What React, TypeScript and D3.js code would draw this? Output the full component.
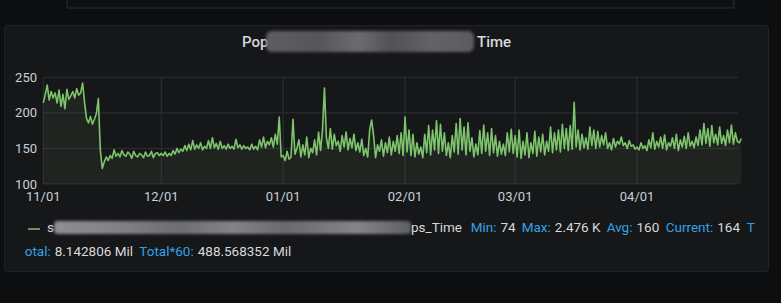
import React from "react";
import * as d3 from "d3";

// two samples per day (00:00, 12:00), starting 2022-11-01
const novValues = [
  214, 226, 239, 218, 230, 221, 228, 214, 232, 209, 226, 206, 233, 219, 224, 230, 221, 234, 225, 228,
  242, 214, 192, 186, 195, 184, 191, 199, 220, 148, 122, 131, 138, 133, 140, 136, 148, 139, 143, 138,
  147, 141, 139, 145, 142, 136, 146, 140, 138, 143, 141, 137, 145, 139, 140, 146, 137, 143, 144, 140,
];
const decValues = [
  143, 140, 145, 139, 143, 140, 147, 142, 150, 144, 149, 146, 154, 147, 156, 148, 161, 149, 155, 150,
  158, 148, 153, 150, 161, 150, 165, 151, 157, 149, 160, 150, 154, 149, 156, 150, 153, 149, 163, 151,
  155, 149, 154, 150, 152, 148, 156, 149, 153, 148, 162, 152, 166, 151, 160, 155, 165, 152, 170, 156,
  194, 138,
];
const janValues = [
  140, 133, 146, 135, 138, 191, 142, 150, 162, 138, 155, 141, 166, 137, 150, 144, 162, 141, 173, 147,
  176, 235, 165, 150, 178, 149, 170, 154, 160, 146, 168, 152, 173, 148, 164, 151, 170, 147, 158, 145,
  163, 140, 150, 138, 176, 190, 168, 137, 155, 146, 162, 139, 158, 144, 166, 141, 160, 146, 168, 143,
  172, 140,
];
const febValues = [
  194, 145, 176, 140, 170, 138, 158, 142, 152, 137, 170, 144, 182, 141, 176, 148, 189, 143, 184, 146,
  172, 140, 158, 137, 168, 145, 185, 142, 192, 148, 180, 141, 186, 146, 165, 138, 156, 141, 175, 143,
  183, 146, 172, 140, 178, 144, 168, 139, 160, 142, 156, 140, 172, 145, 177, 143,
];
const marValues = [
  168, 138, 176, 136, 160, 141, 172, 137, 158, 143, 174, 139, 166, 145, 170, 141, 160, 146, 180, 144,
  172, 148, 176, 145, 184, 150, 178, 147, 182, 149, 215, 152, 176, 148, 170, 151, 165, 149, 180, 154,
  176, 150, 174, 152, 168, 155, 172, 150, 158, 148, 164, 152, 160, 156, 166, 154, 158, 150, 161, 153,
  155, 149,
];
const aprValues = [
  152, 148, 158, 150, 154, 147, 162, 151, 172, 149, 160, 152, 166, 150, 169, 148, 158, 153, 165, 150,
  170, 147, 162, 152, 167, 150, 172, 153, 160, 151, 166, 154, 176, 155, 185, 157, 178, 153, 182, 158,
  170, 155, 180, 157, 168, 154, 176, 158, 183, 156, 172, 160, 158, 164,
];

const yTicks = [100, 150, 200, 250];
const legendKeys = ["Min:", "Max:", "Avg:", "Current:", "T"];
const legendVals = ["74", "2.476 K", "160", "164", ""];
const legendKeyX = [470.7, 521.7, 606.7, 665.7, 746.7];
const totalKeys = ["otal:", "Total*60:"];
const totalVals = ["8.142806 Mil", "488.568352 Mil"];
const totalKeyX = [24.7, 139.3];

const allValues = [...novValues, ...decValues, ...janValues, ...febValues, ...marValues, ...aprValues];
const start = new Date(2022, 10, 1);
const series = allValues.map((v, i) => ({ t: d3.timeHour.offset(start, 12 * i), v }));
const domainEnd = new Date(2023, 3, 26, 16);

const W = 781;
const H = 303;
const plot = { left: 43.3, right: 738, top: 77.3, bottom: 184 };

export default function App() {
  const x = d3.scaleTime().domain([start, domainEnd]).range([plot.left, plot.right]);
  const y = d3.scaleLinear().domain([100, 250]).range([plot.bottom, plot.top]);
  const line = d3.line<{ t: Date; v: number }>().x((d) => x(d.t)).y((d) => y(d.v));
  const area = d3
    .area<{ t: Date; v: number }>()
    .x((d) => x(d.t))
    .y0(y(100))
    .y1((d) => y(d.v));
  const months = d3.timeMonth.range(start, domainEnd);
  const fmt = d3.timeFormat("%m/%d");
  const font = "Roboto, 'Noto Sans', sans-serif";

  return (
    <svg
      width={W}
      height={H}
      style={{ position: "absolute", left: 0, top: 0, display: "block" }}
      fontFamily={font}
    >
      <defs>
        <filter id="blur" x="-10%" y="-50%" width="120%" height="200%">
          <feGaussianBlur stdDeviation="1.6" />
        </filter>
        <linearGradient id="titleBlur" x1="0" x2="1" y1="0" y2="0">
          <stop offset="0" stopColor="#5d5e63" />
          <stop offset="0.25" stopColor="#55565b" />
          <stop offset="0.45" stopColor="#6a6b70" />
          <stop offset="0.6" stopColor="#505156" />
          <stop offset="0.8" stopColor="#626368" />
          <stop offset="1" stopColor="#5a5b60" />
        </linearGradient>
        <linearGradient id="legBlur" x1="0" x2="1" y1="0" y2="0">
          <stop offset="0" stopColor="#8e8f92" />
          <stop offset="0.2" stopColor="#7f8083" />
          <stop offset="0.35" stopColor="#6d6e71" />
          <stop offset="0.5" stopColor="#838487" />
          <stop offset="0.65" stopColor="#6a6b6e" />
          <stop offset="0.85" stopColor="#848588" />
          <stop offset="1" stopColor="#5f6063" />
        </linearGradient>
      </defs>
      <rect width={W} height={H} fill="#0d0e10" />
      {/* top panel remnant */}
      <rect x={67} y={-10} width={667} height={18} fill="#0f1012" stroke="#2c2d31" strokeWidth={1} />
      {/* main panel */}
      <rect x={4.5} y={25.5} width={764} height={246} rx={3} fill="#161719" stroke="#212226" />

      {/* title */}
      <text x={242} y={47} fill="#d8d9da" fontSize={15} fontWeight={500}>
        Pop
      </text>
      <rect x={266} y={31} width={208} height={21} rx={6} fill="url(#titleBlur)" filter="url(#blur)" />
      <text x={477} y={47} fill="#d8d9da" fontSize={15} fontWeight={500}>
        Time
      </text>

      {/* grid */}
      {yTicks.map((t) => (
        <line key={"h" + t} x1={plot.left} x2={plot.right} y1={y(t)} y2={y(t)} stroke="#2e3034" />
      ))}
      {months.map((m) => (
        <line key={"v" + m.getTime()} x1={x(m)} x2={x(m)} y1={plot.top} y2={plot.bottom} stroke="#2e3034" />
      ))}

      {/* series */}
      <path d={area(series) ?? ""} fill="#7eb26d" fillOpacity={0.09} />
      <path d={line(series) ?? ""} fill="none" stroke="#7ec46c" strokeWidth={1.6} strokeLinejoin="round" />

      {/* y labels */}
      {yTicks.map((t) => (
        <text key={"yl" + t} x={37} y={y(t) + 4.5} textAnchor="end" fill="#c7d0d9" fontSize={13}>
          {t}
        </text>
      ))}
      {/* x labels */}
      {months.map((m) => (
        <text key={"xl" + m.getTime()} x={x(m)} y={201} textAnchor="middle" fill="#c7d0d9" fontSize={13}>
          {fmt(m)}
        </text>
      ))}

      {/* legend */}
      <line x1={28} x2={40} y1={229} y2={229} stroke="#7eb26d" strokeWidth={2} opacity={0.8} />
      <text x={47} y={231.5} fill="#d8d9da" fontSize={13.5}>
        s
      </text>
      <rect x={54} y={221} width={357} height={13} rx={4} fill="url(#legBlur)" filter="url(#blur)" />
      <text x={411} y={231.5} fill="#d8d9da" fontSize={13.5}>
        ps_Time
      </text>
      {legendKeys.map((k, i) => (
        <text key={k} x={legendKeyX[i]} y={231.5} fontSize={13.5}>
          <tspan fill="#33a2e5">{k}</tspan>
          <tspan fill="#d8d9da" dx={4}>
            {legendVals[i]}
          </tspan>
        </text>
      ))}
      {totalKeys.map((k, i) => (
        <text key={k} x={totalKeyX[i]} y={255.5} fontSize={13.5}>
          <tspan fill="#33a2e5">{k}</tspan>
          <tspan fill="#d8d9da" dx={4}>
            {totalVals[i]}
          </tspan>
        </text>
      ))}
    </svg>
  );
}
